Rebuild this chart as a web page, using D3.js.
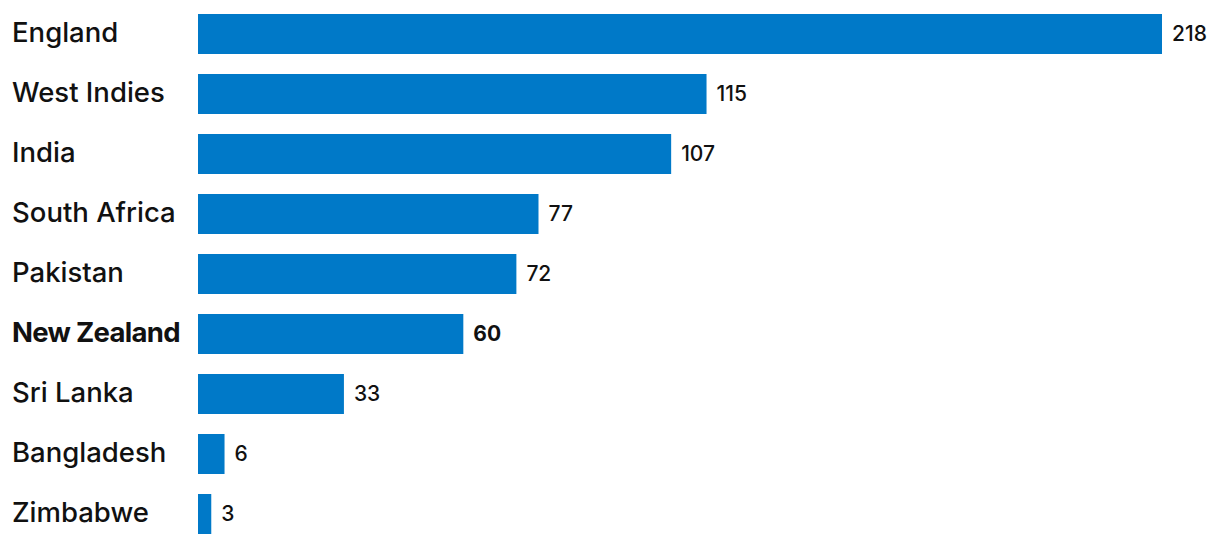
<!DOCTYPE html>
<html>
<head>
<meta charset="utf-8">
<script src="https://cdn.jsdelivr.net/npm/d3@7"></script>
<style>
  html, body { margin: 0; padding: 0; background: #fff; }
  svg { display: block; }
  text { font-family: "Inter", "Noto Sans", sans-serif; fill: #111; }
</style>
</head>
<body>
<svg id="chart" width="1220" height="548"></svg>
<script>
const categories = ["England", "West Indies", "India", "South Africa", "Pakistan", "New Zealand", "Sri Lanka", "Bangladesh", "Zimbabwe"];
const values = [218, 115, 107, 77, 72, 60, 33, 6, 3];
const highlight = ["New Zealand"];

const svg = d3.select("#chart");
const x = d3.scaleLinear().domain([0, 218]).range([198, 1162]);
const y = d3.scaleBand().domain(categories).range([4, 544]).paddingInner(1/3).paddingOuter(1/6);

const data = categories.map((c, i) => ({ c, v: values[i] }));

svg.selectAll("rect.bar").data(data).join("rect")
  .attr("class", "bar")
  .attr("x", x(0))
  .attr("y", d => y(d.c))
  .attr("width", d => x(d.v) - x(0))
  .attr("height", y.bandwidth())
  .attr("fill", "#0079C8");

svg.selectAll("text.cat").data(data).join("text")
  .attr("class", "cat")
  .attr("x", 12)
  .attr("y", d => y(d.c) + y.bandwidth() / 2 - 2)
  .attr("dy", "0.35em")
  .style("font-size", "27.5px")
  .style("font-weight", d => highlight.includes(d.c) ? 700 : 500)
  .style("letter-spacing", d => highlight.includes(d.c) ? "-0.7px" : "0px")
  .text(d => d.c);

svg.selectAll("text.val").data(data).join("text")
  .attr("class", "val")
  .attr("x", d => x(d.v) + 10)
  .attr("y", d => y(d.c) + y.bandwidth() / 2)
  .attr("dy", "0.35em")
  .style("font-size", "21px")
  .style("font-weight", d => highlight.includes(d.c) ? 700 : 500)
  .text(d => d.v);
</script>
</body>
</html>
